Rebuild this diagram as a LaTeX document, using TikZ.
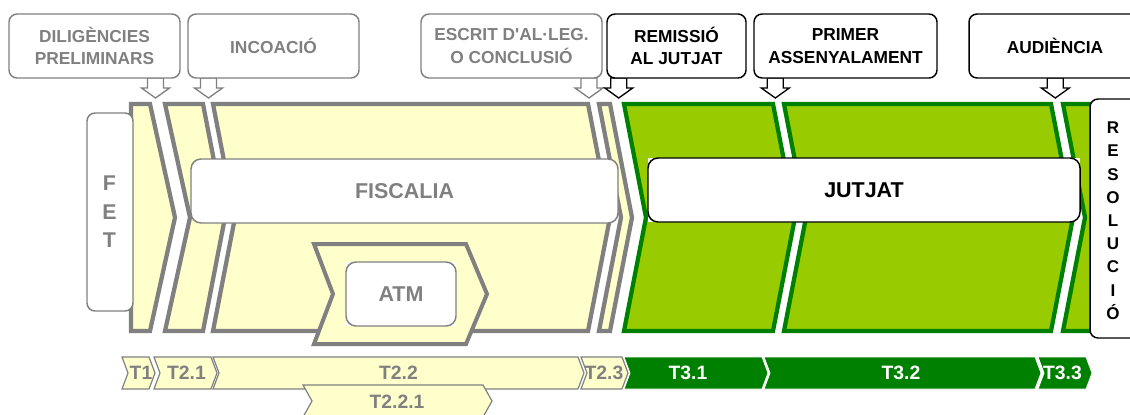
\documentclass[tikz,border=0pt]{standalone}
\usepackage{fontspec}
\newfontfamily\lab{Liberation Sans}
\definecolor{yel}{HTML}{FFFFCC}
\definecolor{segGray}{HTML}{808080}
\definecolor{txtGray}{HTML}{808080}
\definecolor{lgreen}{HTML}{99CC00}
\definecolor{dgreen}{HTML}{008000}
\newcommand\chevseg[3]{\draw[#1] (#2,104) -- (#3,104) -- ({#3+22},217.5) -- (#3,331) -- (#2,331) -- ({#2+22},217.5) -- cycle;}
\newcommand\tagshp[3]{\draw[#1] (#2,357) -- (#3,357) -- ({#3+6},373) -- (#3,389) -- (#2,389) -- ({#2+6},373) -- cycle;}
\newcommand\dnarr[2]{\draw[#1] ({#2-8},78) -- ({#2+8},78) -- ({#2+8},88) -- ({#2+14},88) -- (#2,98) -- ({#2-14},88) -- ({#2-8},88) -- cycle;}
\begin{document}
\begin{tikzpicture}[x=0.75pt,y=-0.75pt,
  seg/.style={draw=segGray, fill=yel, line width=3.2pt, line join=miter},
  gseg/.style={draw=dgreen, fill=lgreen, line width=3.2pt, line join=miter},
  sz/.style 2 args={minimum width=#1*0.75pt, minimum height=#2*0.75pt},
  gbox/.style={draw=txtGray, fill=white, rounded corners=6pt, line width=1.1pt, text=txtGray,
    font=\lab\bfseries\fontsize{13}{17}\selectfont, align=center, inner sep=0pt},
  kbox/.style={gbox, draw=black, text=black},
  bigg/.style={draw=txtGray, fill=white, rounded corners=7.5pt, line width=1.1pt, text=txtGray,
    font=\lab\bfseries\fontsize{16.1}{19}\selectfont, inner sep=0pt},
  bigk/.style={bigg, draw=black, text=black},
  garr/.style={draw=txtGray, fill=white, line width=1pt, line join=miter},
  karr/.style={draw=black, fill=white, line width=1pt, line join=miter},
  ytag/.style={draw=segGray, fill=yel, line width=0.9pt},
  gtag/.style={draw=white, fill=dgreen, line width=0.6pt},
  ytxt/.style={text=txtGray, font=\lab\bfseries\fontsize{14.5}{17}\selectfont, inner sep=0pt},
  gtxt/.style={ytxt, text=white},
  vlet/.style={anchor=base, inner sep=0pt, font=\lab\bfseries\fontsize{12.75}{15}\selectfont},
  flet/.style={anchor=base, inner sep=0pt, text=txtGray, font=\lab\bfseries\fontsize{16}{18}\selectfont}
]
\useasboundingbox (0,0) rectangle (1130,414);

% main band segments
\draw[seg] (131,104) -- (150,104) -- (175,217.5) -- (150,331) -- (131,331) -- cycle;
\draw[seg] (165,104) -- (203,104) -- (225,217.5) -- (203,331) -- (165,331) -- (190,217.5) -- cycle;
\chevseg{seg}{213}{588}
\chevseg{seg}{599}{610}
\chevseg{gseg}{624}{773}
\chevseg{gseg}{784}{1051}
\chevseg{gseg}{1063}{1100}

% FET
\node[draw=txtGray, fill=white, rounded corners=6pt, line width=1.1pt, sz={46}{198}] (fet) at (110,212) {};
\node[flet] (f1) at (109.5,190.2) {F};
\node[flet] (f2) at (109.5,219) {E};
\node[flet] (f3) at (109.5,247.2) {T};

% FISCALIA
\node[bigg, sz={427}{64}] (fisc) at (404.5,191) {FISCALIA};

% ATM chevron and box
\draw[seg, line width=3pt] (314,244) -- (466,244) -- (487,294) -- (466,344) -- (314,344) -- (333,294) -- cycle;
\fill[white] (346,262) rectangle (456,326);
\node[bigg, sz={110}{64}] (atm) at (401,294) {ATM};

% JUTJAT
\fill[white] (648,158) rectangle (1080,222);
\node[bigk, sz={432}{64}] (jut) at (864,190) {JUTJAT};

% RESOLUCIO
\node[draw=black, fill=white, rounded corners=6pt, line width=1.1pt, sz={60}{239}] (res) at (1120,218.5) {};
\foreach \l [count=\i from 0] in {R,E,S,O,L,U,C,I,Ó}
  \node[vlet] (r\i) at (1113,{133.6+23.2*\i}) {\l};

% arrows
\dnarr{garr}{155.5}
\dnarr{garr}{208.5}
\dnarr{garr}{589}
\dnarr{karr}{618.7}
\dnarr{karr}{775.3}
\dnarr{karr}{1055.3}

% top boxes
\node[gbox, sz={171}{64}] (dil) at (94.5,46) {DILIGÈNCIES\\PRELIMINARS};
\node[gbox, sz={171}{64}] (inc) at (273.5,46) {INCOACIÓ};
\node[gbox, sz={181}{64}] (esc) at (511.5,46) {ESCRIT D'AL·LEG.\\O CONCLUSIÓ};
\node[kbox, sz={139}{64}] (rem) at (676.5,46) {REMISSIÓ\\AL JUTJAT};
\node[kbox, sz={183}{64}] (pri) at (845.5,46) {PRIMER\\ASSENYALAMENT};
\node[kbox, sz={172}{64}] (aud) at (1055,46) {AUDIÈNCIA};

% bottom tags
\tagshp{ytag}{122}{149}
\tagshp{ytag}{154}{211}
\tagshp{ytag}{213}{578}
\tagshp{ytag}{581}{622}
\tagshp{gtag}{624}{762}
\tagshp{gtag}{764}{1035}
\tagshp{gtag}{1038}{1086}
\draw[ytag] (303,385) -- (483,385) -- (492,401) -- (483,417) -- (303,417) -- (312,401) -- cycle;

\node[ytxt] (t1) at (141,373) {T1};
\node[ytxt] (t21) at (186.5,373) {T2.1};
\node[ytxt] (t22) at (398.5,373) {T2.2};
\node[ytxt] (t23) at (604,373) {T2.3};
\node[gtxt] (t31) at (688,373) {T3.1};
\node[gtxt] (t32) at (901,373) {T3.2};
\node[gtxt] (t33) at (1062.5,373) {T3.3};
\node[ytxt] (t221) at (397,401.5) {T2.2.1};
\end{tikzpicture}
\end{document}
